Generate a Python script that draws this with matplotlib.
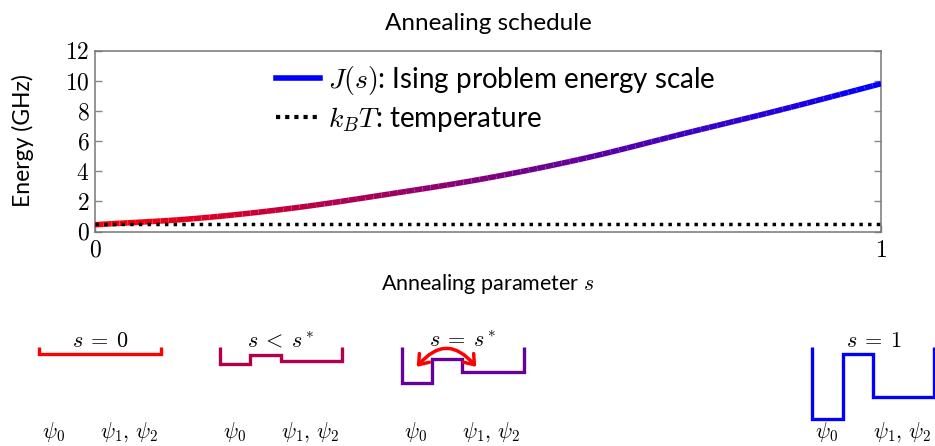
import numpy as np
import matplotlib
matplotlib.use("Agg")
import matplotlib.pyplot as plt
from matplotlib.collections import LineCollection
from matplotlib.lines import Line2D
from matplotlib.patches import FancyArrowPatch
from matplotlib.ticker import FixedLocator, FuncFormatter

plt.rcParams['font.family'] = ['Lato', 'DejaVu Sans']
plt.rcParams['mathtext.fontset'] = 'cm'

# ---- data ----
s_vals = [0.0, 0.125, 0.25, 0.375, 0.5, 0.625, 0.75, 0.875, 1.0]
J_vals = [0.45, 0.85, 1.54, 2.49, 3.55, 4.88, 6.5, 8.1, 9.8]
kBT_val = 0.48
y_ticks = [0, 2, 4, 6, 8, 10, 12]
x_ticks = [0, 1]

# potential-well sketches (depths below rim, sketch units)
well_labels = [r'$s\:=\:0$', r'$s\:<\:s^*$', r'$s\:=\:s^*$', r'$s\:=\:1$']
well_pos = [0.0, 0.3, 0.6, 1.0]          # position along the schedule -> colour
depth_left = [7, 17, 36, 72]
depth_barrier = [7, 8, 12, 7]
depth_right = [7, 14, 25, 50]
state_labels = [r'$\psi_0$', r'$\psi_1,\,\psi_2$']


def grad(t):
    return (1.0 - t, 0.0, t)


def catmull_rom(x, y, n=12):
    """Smooth drawing path through the read points."""
    x = np.asarray(x, float)
    y = np.asarray(y, float)
    P = np.column_stack([x, y])
    P = np.vstack([2 * P[0] - P[1], P, 2 * P[-1] - P[-2]])
    out = []
    for i in range(1, len(P) - 2):
        p0, p1, p2, p3 = P[i - 1], P[i], P[i + 1], P[i + 2]
        for t in np.linspace(0, 1, n, endpoint=False):
            t2, t3 = t * t, t * t * t
            out.append(0.5 * ((2 * p1) + (-p0 + p2) * t +
                              (2 * p0 - 5 * p1 + 4 * p2 - p3) * t2 +
                              (-p0 + 3 * p1 - 3 * p2 + p3) * t3))
    out.append(P[-2])
    return np.array(out)


W, H = 935, 446
fig = plt.figure(figsize=(W / 100, H / 100), dpi=100)

# ---- main axes ----
ax = fig.add_axes([95 / W, 1 - 231.5 / H, 786 / W, (231.5 - 50.5) / H])
pts = catmull_rom(s_vals, J_vals)
segs = np.stack([pts[:-1], pts[1:]], axis=1)
mids = 0.5 * (pts[:-1, 0] + pts[1:, 0])
lc = LineCollection(segs, colors=[grad(m) for m in mids], linewidths=4.0,
                    capstyle='butt', zorder=3)
ax.add_collection(lc)
ax.plot([0, 1], [kBT_val, kBT_val], color='black', lw=2.5,
        dashes=(1, 1.5), dash_capstyle='butt', zorder=4)

ax.set_xlim(0, 1)
ax.set_ylim(0, 12)
ax.yaxis.set_major_locator(FixedLocator(y_ticks))
ax.xaxis.set_major_locator(FixedLocator(x_ticks))
fmt = FuncFormatter(lambda v, p: r'$%d$' % v)
ax.yaxis.set_major_formatter(fmt)
ax.xaxis.set_major_formatter(fmt)
ax.tick_params(axis='both', direction='in', length=5, width=1, color='#888888',
               labelsize=17, right=True, top=False)
ax.tick_params(axis='y', pad=4)
ax.tick_params(axis='x', pad=6)
for sp in ax.spines.values():
    sp.set_color('#777777')
    sp.set_linewidth(1.1)

ax.set_title('Annealing schedule', fontsize=17.5, pad=15)
ax.set_xlabel('Annealing parameter $s$', fontsize=15.5, labelpad=8)
ax.set_ylabel('Energy (GHz)', fontsize=16.5, labelpad=22)

handles = [Line2D([], [], color='blue', lw=4.0),
           Line2D([], [], color='black', lw=3.0, dashes=(1, 1.2), dash_capstyle='butt')]
ax.legend(handles, ['$J(s)$: Ising problem energy scale', '$k_BT$: temperature'],
          loc='upper left', bbox_to_anchor=(0.205, 1.035), frameon=False,
          fontsize=20, handlelength=1.6, handletextpad=0.3, labelspacing=0.3,
          borderaxespad=0.3)

# ---- well sketches ----
ov = fig.add_axes([0, 0, 1, 1], zorder=-1)
ov.set_xlim(0, W)
ov.set_ylim(H, 0)
ov.axis('off')
panel_x = [39.3, 220.0, 401.7, 812.3]
rim = 347.3
widths = [30.3, 30.3, 61.2]
for i, x0 in enumerate(panel_x):
    c = grad(well_pos[i])
    xa = x0 + widths[0]
    xb = xa + widths[1]
    xc = xb + widths[2]
    xs = [x0, x0, xa, xa, xb, xb, xc, xc]
    ys = [rim, rim + depth_left[i], rim + depth_left[i], rim + depth_barrier[i],
          rim + depth_barrier[i], rim + depth_right[i], rim + depth_right[i], rim]
    ov.plot(xs, ys, color=c, lw=2.4, solid_joinstyle='miter', solid_capstyle='butt')
    ov.text(x0 + 61, 341.0, well_labels[i], ha='center', va='center', fontsize=16)
    ov.text(x0 + 14, 432.5, state_labels[0], ha='center', va='center', fontsize=15.5)
    ov.text(x0 + 90, 432.5, state_labels[1], ha='center', va='center', fontsize=15.5)

arr = FancyArrowPatch((415, 369), (478, 369), connectionstyle='arc3,rad=-0.62',
                      arrowstyle='<->,head_length=4,head_width=3',
                      color='red', lw=2.5, mutation_scale=1.6, zorder=5)
ov.add_patch(arr)

fig.savefig('out.png', dpi=100)
